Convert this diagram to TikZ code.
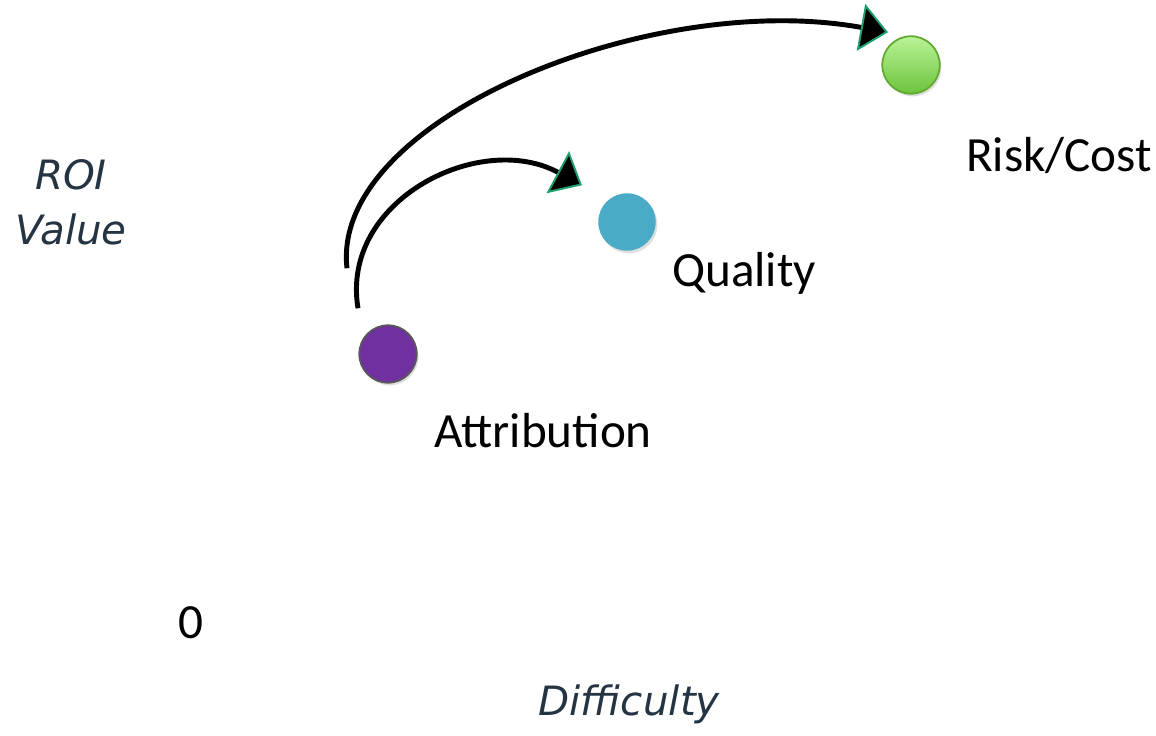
\documentclass[tikz,border=0pt]{standalone}
\usepackage{fontspec}
\setmainfont{Carlito}
\newfontfamily\handfont{DejaVu Sans}
\usetikzlibrary{arrows.meta,shadows}

\definecolor{attrpurple}{RGB}{112,48,160}
\definecolor{qualblue}{RGB}{74,171,198}
\definecolor{riskgreen}{RGB}{108,196,60}
\definecolor{risklight}{RGB}{186,243,152}
\definecolor{riskedge}{RGB}{96,170,48}
\definecolor{tipgreen}{RGB}{30,160,110}
\definecolor{inkslate}{RGB}{36,52,66}

\begin{document}
\begin{tikzpicture}[x=0.02cm, y=-0.02cm,
  >={Triangle[length=0.55cm, width=0.95cm, line width=1.1pt, color=tipgreen, fill=black]},
  dot/.style={circle, minimum size=1.15cm, inner sep=0pt, outer sep=0pt,
    drop shadow={opacity=0.25, shadow xshift=1pt, shadow yshift=-1.5pt}},
  lbl/.style={anchor=base, font=\fontsize{28}{33}\selectfont},
  axislbl/.style={anchor=base, text=inkslate,
    font=\handfont\itshape\fontsize{23}{28}\selectfont},
  flow/.style={->, line width=2.8pt}]
  \useasboundingbox (0,0) rectangle (1156,736);

  % the three dots
  \node[dot, fill=attrpurple, draw=gray!70!black, line width=1pt] (attr) at (388,354) {};
  \node[dot, fill=qualblue] (qual) at (627,222) {};
  \node[dot, draw=riskedge, line width=1pt, top color=risklight,
    bottom color=riskgreen] (risk) at (911,65) {};

  \node[lbl] (attr label) at (543,447) {Attribution};
  \node[lbl] (qual label) at (744,287) {Quality};
  \node[lbl] (risk label) at (1059,172) {Risk/Cost};
  \node[lbl] (zero) at (191,638) {0};

  % axis names
  \node[axislbl] (roi) at (71,190) {ROI};
  \node[axislbl] (value) at (71,245) {Value};
  \node[axislbl] (difficulty) at (629,715) {Difficulty};

  % arrows leaving the attribution dot
  \coordinate (outer start) at ([shift={(-41,-57)}]attr.north);
  \coordinate (inner start) at ([shift={(-30,-17)}]attr.north);
  \coordinate (outer end) at ([shift={(-23,-4)}]risk.north);
  \coordinate (inner end) at ([shift={(-45,-8)}]qual.north);
  \draw[flow] (outer start) .. controls +(-17,-148) and +(-238,-43) .. (outer end);
  \draw[flow] (inner start) .. controls +(-18,-108) and +(-102,-55) .. (inner end);
\end{tikzpicture}
\end{document}
